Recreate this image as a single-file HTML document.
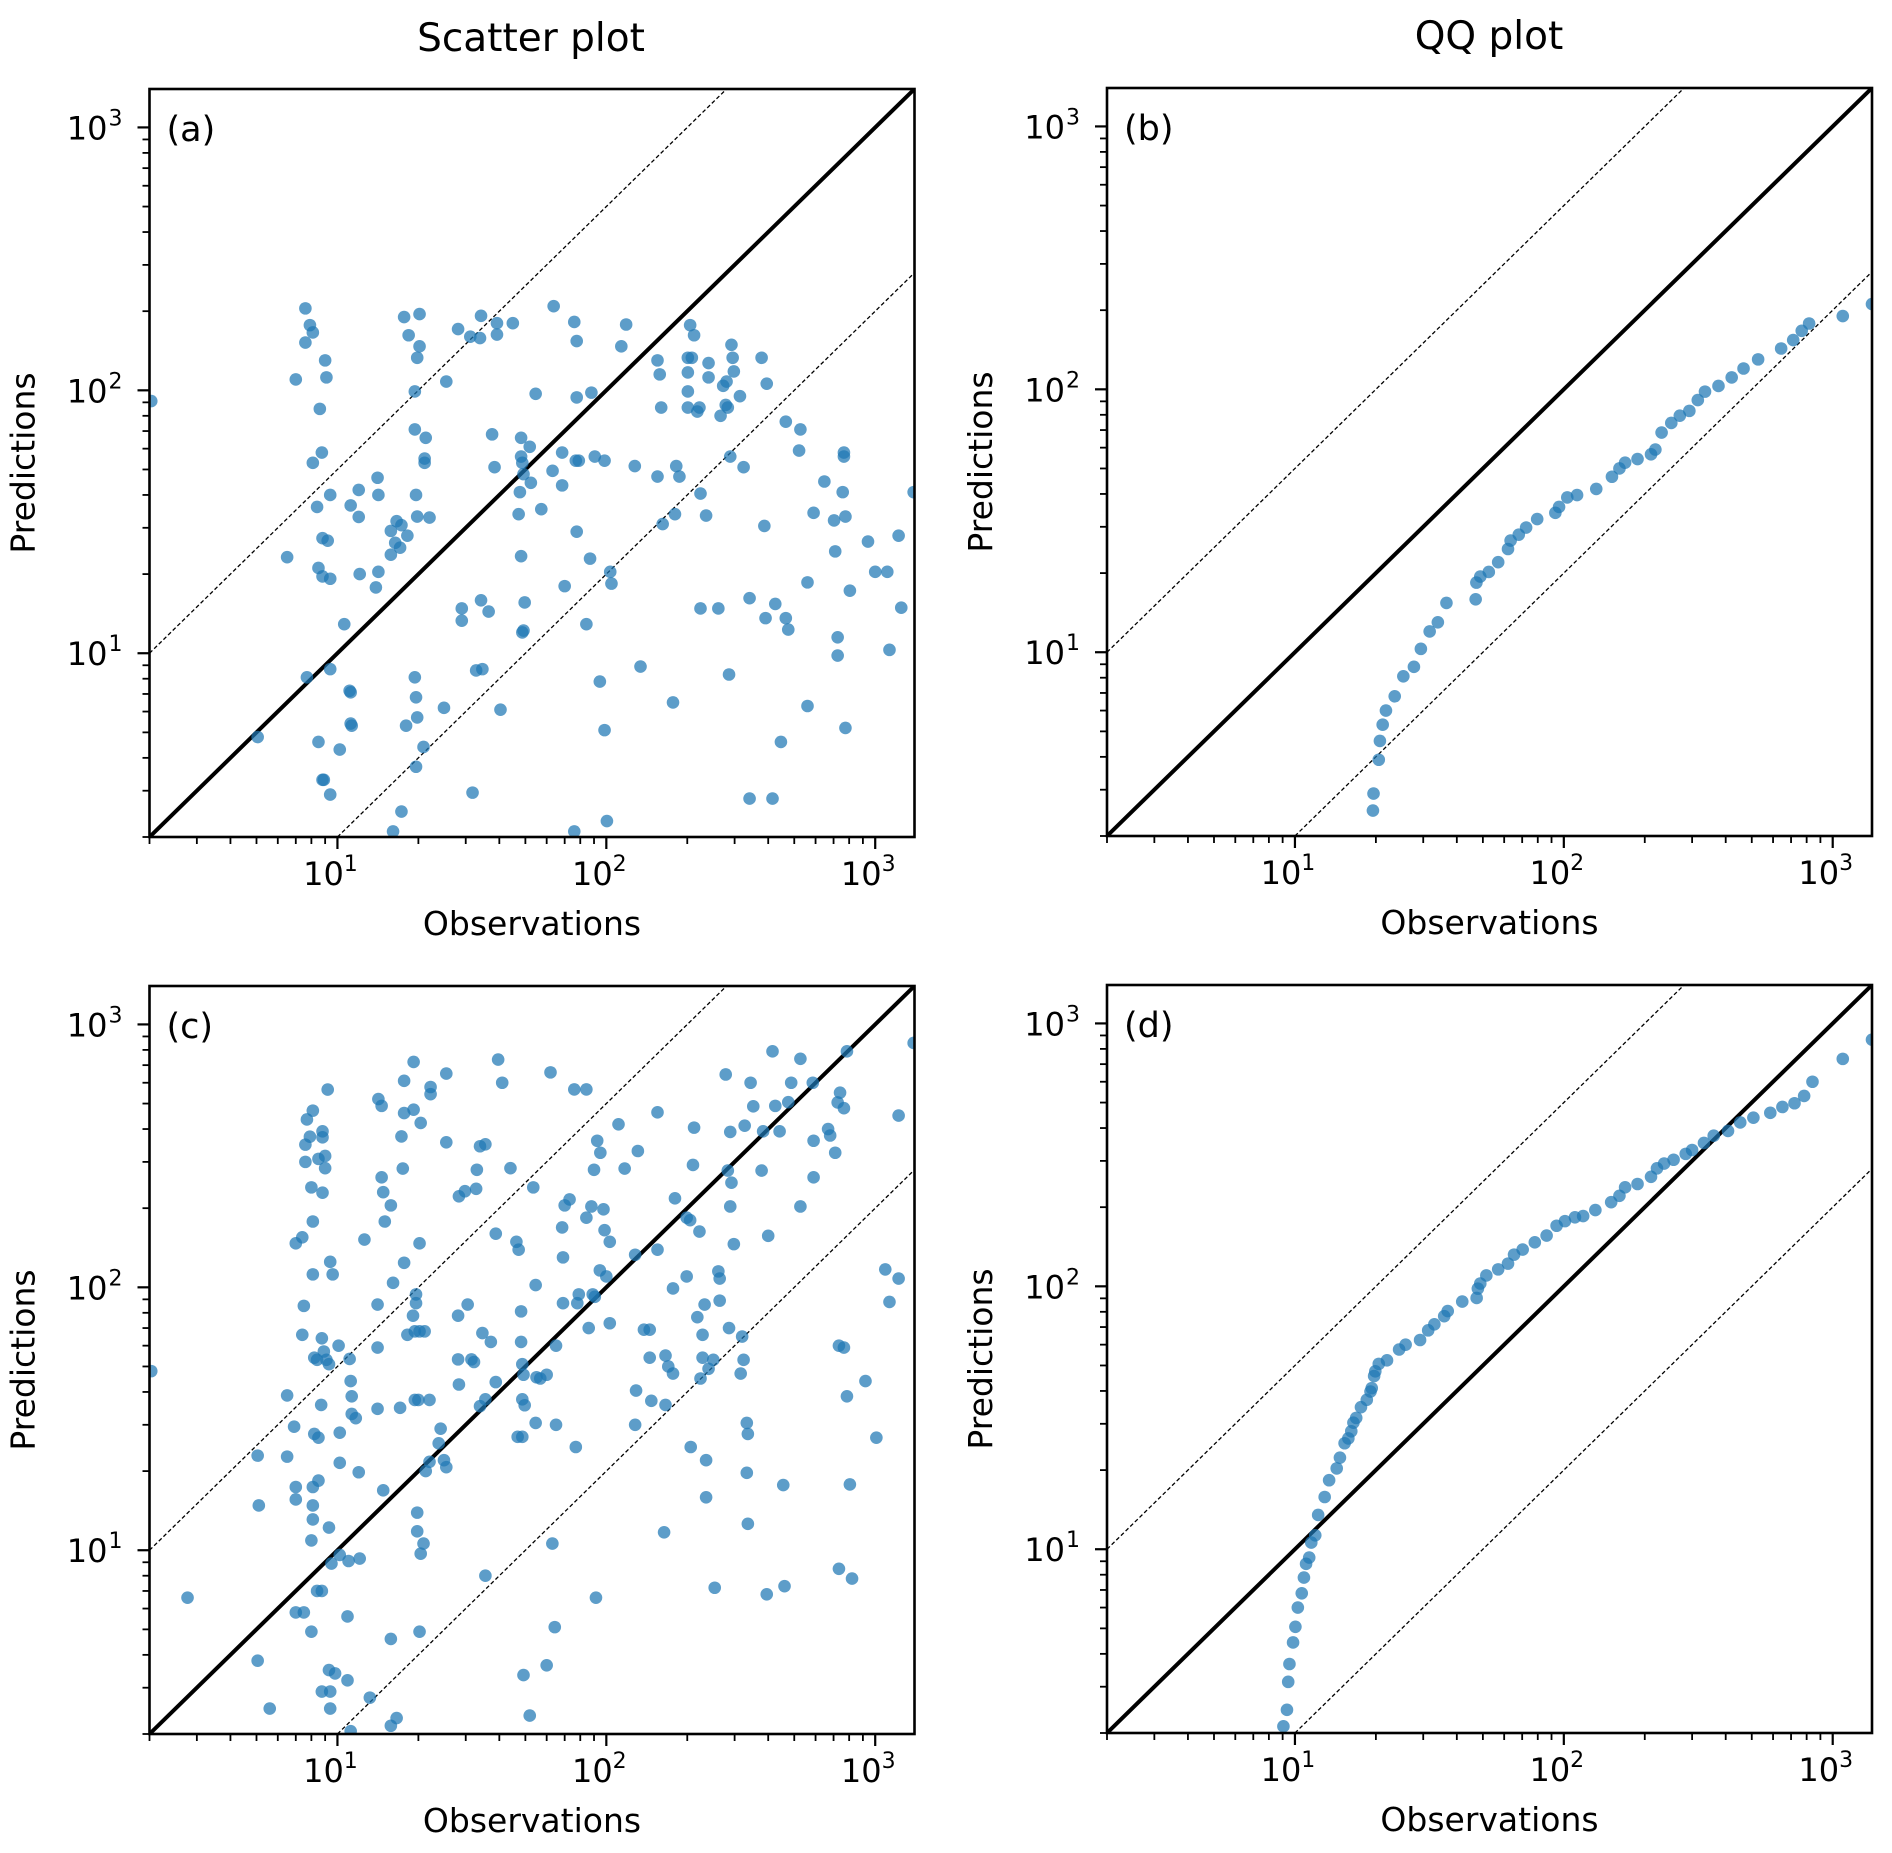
<!DOCTYPE html>
<html><head><meta charset="utf-8"><style>
html,body{margin:0;padding:0;background:#fff;}
svg{display:block;font-family:"DejaVu Sans","Liberation Sans",sans-serif;}
</style></head><body>
<svg id="fig" width="1892" height="1853" viewBox="0 0 1892 1853">
<text x="531" y="51" font-size="39" text-anchor="middle">Scatter plot</text>
<text x="1489" y="49" font-size="39" text-anchor="middle">QQ plot</text>
</svg>
<script>
// Panel (a) scatter: observations / predictions
const obsA = [2.03,7.6,7.9,8.1,7.6,7.0,9.0,9.1,8.6,8.75,8.1,9.4,8.4,8.8,9.2,8.5,8.8,9.4,6.5,7.7,9.4,8.5,10.2,8.8,8.9,9.4,5.05,10.6,11.1,11.2,11.2,11.3,12.0,14.1,14.2,12.0,11.2,12.1,14.2,13.9,15.8,16.6,17.3,16.4,17.1,15.8,18.2,17.7,18.4,20.2,20.2,19.8,19.4,19.4,21.3,21.1,21.1,19.6,19.8,22,19.4,19.6,19.8,20.9,19.6,18,17.3,16.1,25.4,28.1,31.2,34.2,33.9,39.2,39.2,44.9,29,29,34.2,36.5,32.8,34.6,31.8,37.6,38.4,24.9,40.4,48.2,48.2,51.9,54.6,48.7,49.2,52.4,47.7,47.2,57.3,48.2,49.2,48.7,49.7,63.7,76,77.6,68.5,63.1,77,79,68.5,77.6,70,88,77.6,90.6,98.5,87,84.3,103.4,104.5,94.6,98.5,100.5,76,118.5,113.7,127.6,134,155,158,160,182,187,155,162,180,177,205,212,201,208,201,201,201,222,218,224,235,224,261,240,240,272,280,295,298,278,266,283,314,292,324,289,286,341,415,341,387,391,425,465,475,378,395,446,465,527,521,590,560,560,647,703,775,757,765,765,710,725,725,775,805,940,1000,1109,1222,1130,1250,1390];
const predA = [91,205,177,166,152,110,130,112,85,58,53,40,36,27.4,26.8,21.1,19.6,19.2,23.2,8.1,8.7,4.6,4.3,3.3,3.3,2.9,4.8,12.9,7.2,7.1,5.4,5.3,41.8,46.5,40,33,36.5,20,20.4,17.8,29.2,31.8,30.7,26.3,25.2,23.7,28,190,162,195,147,133,99,71,66,55,53,40,33.1,32.8,8.1,6.8,5.7,4.4,3.7,5.3,2.5,2.1,108,171,160,192,158,163,180,180,14.8,13.3,15.9,14.4,8.6,8.7,2.95,68,51,6.2,6.1,66,56,61,97,53,48,44.5,41,33.8,35.3,23.4,12.2,12,15.6,209,182,154,58,49.4,54,54,43.5,29,18,98,94,56,54,22.9,12.9,20.4,18.4,7.8,5.1,2.3,2.1,178,147,51.5,8.9,130,115,86,51.5,47,47,31,33.8,6.5,177,162,133,133,117,99,86,86,83,40.5,33.4,14.8,14.8,112,127,104,108,133,118,88,80,86,95,149,51,56,8.3,2.8,2.8,16.2,30.5,13.6,15.4,13.6,12.3,133,106,4.6,76,71,59,34.2,18.6,6.3,45,32,33.1,41,58,56,24.4,11.5,9.8,5.2,17.3,26.6,20.4,20.4,28,10.3,14.9,41];
// Panel (b) QQ: sorted observations / sorted predictions
const obsB = [19.5,19.6,20.5,20.7,21.2,21.8,23.5,25.3,27.7,29.4,31.7,34.0,36.6,47,47.3,48.9,52.6,57,62,63.4,68,72.4,79.6,93,96,103,112,132,151,161,169,188,211,219,231,251,270,293,315,335,376,421,466,528,643,713,767,817,1090,1400];
const predB = [2.5,2.9,3.9,4.6,5.3,6.0,6.8,8.1,8.8,10.3,12.0,13.0,15.4,15.9,18.4,19.4,20.2,22,24.7,26.6,28,29.8,32.1,33.9,35.7,38.8,39.6,41.8,46.5,50,52.6,54.3,56.6,59,68.5,74.5,79.4,82.8,91,98,103,111,120,130,143,154,167,178,190,211];
// Panel (c) scatter
const obsC = [2.03,2.77,5.05,5.05,5.1,5.6,6.5,6.5,7.0,7.0,6.9,7.0,7.0,7.4,7.5,7.4,7.6,7.6,7.7,8.1,7.9,8.0,8.1,8.1,8.2,8.4,8.2,8.5,8.1,8.1,8.5,8.1,8.0,7.5,8.4,8.75,8.0,8.5,8.8,9.0,8.8,9.0,8.8,9.2,9.4,9.6,8.75,8.9,8.7,9.1,9.3,9.3,9.5,10.2,10.2,10.2,10.1,9.3,9.8,8.75,9.4,9.4,10.9,11.2,10.9,11.0,11.3,11.2,11.3,11.7,12,12.1,11.1,12.6,13.2,14.1,14.1,14.1,14.2,14.6,14.6,14.8,15.0,14.8,15.8,16.1,15.8,15.8,16.6,17.1,17.7,17.3,17.5,17.7,17.7,18.2,19.1,19.2,19.2,19.4,19.4,20,19.6,19.6,20.2,20.2,21.1,19.8,19.8,20.9,20.4,20.2,21.3,22.0,20.4,22.2,22.2,22,23.8,24.9,25.4,25.4,25.4,24.2,28.1,28.3,28.1,28.3,29.8,30.5,31.5,32.2,32.8,33,34.6,33.9,35.5,35.5,33.9,35.5,37.2,38.8,38.8,39.6,41,44,46.3,47.2,48.2,48.2,48.7,49.2,48.7,49.7,46.8,48.7,49.2,51.9,53.5,54.6,55,54.6,56.8,60,62,63,64.3,60,65,65,68.5,69,69,70,73,76,77,78,79,84.3,84.3,86,89,88,90,92.5,90.6,91.5,94.6,95,97.6,98.5,100,103,103,111,117,128,128,129,131,138,145,145,155,147,155,166,166,170,164,177,180,177,199,199,205,206,210,212,218,222,224,228,228,232,235,235,240,250,253,261,264,264,278,283,289,292,298,286,289,320,316,324,327,344,352,336,333,333,336,383,378,395,400,415,425,441,455,460,475,487,527,527,586,590,590,668,680,710,725,733,765,740,765,785,733,820,785,805,920,1010,1090,1130,1222,1222,1390];
const predC = [48,6.6,3.8,22.9,14.8,2.5,38.8,22.7,17.4,15.6,29.5,5.8,147,155,85,66,349,300,435,470,374,240,178,112,54,53,27.7,26.8,17.4,14.8,18.4,13.1,10.9,5.8,7,7,4.9,308,372,316,392,284,229,565,125,112,64,57,35.7,53,51,12.2,8.9,9.6,28,21.5,60,3.5,3.4,2.9,2.9,2.5,3.2,2.05,5.6,9.1,38.5,44,33,31.8,19.8,9.3,53.4,152,2.75,86,59,34.5,520,490,262,230,178,16.9,205,104,4.6,2.15,2.3,34.8,610,375,283,460,124,66,78,720,474,68,37.3,37.3,94,87,147,68,68,13.9,11.8,10.6,9.7,4.9,20,21.7,422,543,578,37.3,25.5,22,20.7,356,650,29,53.2,42.7,78,222,232,86,53.2,52,237,280,67,35.3,37.5,350,344,8.0,62,43.6,160,735,600,284,149,139,81,62,51,46.5,37.5,35.6,27,27,3.35,2.35,240,102,45.5,30.5,45,46.5,657,10.6,5.1,3.65,60,30,169,130,87,205,216,566,24.7,87,94,566,184,70,94,203,280,361,92,6.6,116,325,198,165,110,149,73,417,283,133,30,40.5,330,69,69,54,139,37,463,55,35.7,50,11.7,47,218,99,184,110,180,24.7,292,405,77,163,45,66,54,86,15.9,22,49,53,7.2,115,108,89,645,278,390,250,146,70,203,65,47,53,412,600,488,27.7,30.5,19.7,12.6,392,278,6.8,157,790,490,392,17.7,7.3,506,600,740,203,600,361,262,400,378,325,505,60,59,550,480,790,8.5,7.8,38.5,17.8,44,26.8,117,88,108,450,850];
// Panel (d) QQ
const obsD = [9.06,9.34,9.44,9.54,9.84,10.04,10.25,10.6,10.8,11.0,11.3,11.5,11.9,12.2,12.9,13.4,14.3,14.7,15.3,15.8,16.2,16.5,16.9,17.6,18.5,19.1,19.3,19.7,19.9,20.5,22.0,24.4,25.8,29.2,31.3,33,35.9,37,41.9,47.4,47.9,48.9,51.5,57,62,65.3,70.3,78,86.3,94,101,110,118,131,150,161,169,188,211,222,236,256,284,300,332,361,408,453,507,586,650,721,783,841,1090,1400];
const predD = [2.12,2.45,3.13,3.66,4.42,5.07,6.0,6.8,7.8,8.8,9.3,10.6,11.3,13.5,15.8,18.3,20.3,22.3,25.3,26.4,28.1,30.3,31.6,34.7,37,39.8,41,45.6,47.5,50.7,52.3,57.5,60,62.5,68,71.7,77,80.5,87.5,90.3,98,102.5,110,116,122,132,138,147,156,170,177,183,185,195,209,221,238,245,261,281,293,303,319,330,351,374,390,420,438,457,481,497,530,600,733,867];
// axis tick exponents
const majorExps = [1, 2, 3];
const tickLabelsMajor = ["1", "2", "3"];
const bandFactor = 5;

const NS = "http://www.w3.org/2000/svg";
const svg = document.getElementById("fig");
const LMIN = Math.log10(2), LMAX = Math.log10(1400);
const W = 765, H = 748;
function mk(tag, attrs, parent) {
  const e = document.createElementNS(NS, tag);
  for (const k in attrs) e.setAttribute(k, attrs[k]);
  parent.appendChild(e);
  return e;
}
function drawPanel(id, left, top, obs, pred, letter) {
  const g = mk("g", {}, svg);
  
  
  const sx = v => left + (Math.log10(v) - LMIN) / (LMAX - LMIN) * W;
  const sy = v => top + H - (Math.log10(v) - LMIN) / (LMAX - LMIN) * H;
  const cpId = "clip-" + id;
  const defs = mk("defs", {}, g);
  const cp = mk("clipPath", {id: cpId}, defs);
  mk("rect", {x: left, y: top, width: W, height: H}, cp);
  const plot = mk("g", {"clip-path": "url(#" + cpId + ")"}, g);
  const f = bandFactor;
  const d1 = mk("line", {x1: sx(2), y1: sy(2 * f), x2: sx(1400 / f), y2: sy(1400), stroke: "#000", "stroke-width": 1.3, "stroke-dasharray": "4,2.5"}, plot);
  
  
  const d2 = mk("line", {x1: sx(2 * f), y1: sy(2), x2: sx(1400), y2: sy(1400 / f), stroke: "#000", "stroke-width": 1.3, "stroke-dasharray": "4,2.5"}, plot);
  
  
  const d0 = mk("line", {x1: sx(2), y1: sy(2), x2: sx(1400), y2: sy(1400), stroke: "#000", "stroke-width": 4}, plot);
  
  
  for (let i = 0; i < obs.length; i++) {
    const c = mk("circle", {cx: sx(obs[i]), cy: sy(pred[i]), r: 6.3, fill: "#1f77b4", "fill-opacity": 0.72}, plot);
    
    
  }
  const fr = mk("rect", {x: left, y: top, width: W, height: H, fill: "none", stroke: "#000", "stroke-width": 2.6}, g);
  
  
  for (let e = 0; e <= 3; e++) {
    for (let m = 1; m <= 9; m++) {
      const v = m * Math.pow(10, e);
      if (v < 2 || v > 1400) continue;
      const major = m === 1;
      const len = major ? 12 : 7;
      const x = sx(v), y = sy(v);
      const tx = mk("line", {x1: x, y1: top + H, x2: x, y2: top + H + len, stroke: "#000", "stroke-width": major ? 2.2 : 1.8}, g);
      
      
      const ty = mk("line", {x1: left, y1: y, x2: left - len, y2: y, stroke: "#000", "stroke-width": major ? 2.2 : 1.8}, g);
      
      
    }
  }
  majorExps.forEach((ex, i) => {
    const v = Math.pow(10, ex);
    const xl = mk("text", {x: sx(v) - 7, y: top + H + 48, "font-size": 32, "text-anchor": "middle"}, g);
    
    
    xl.textContent = "10";
    const s1 = mk("tspan", {dy: -14, "font-size": 22}, xl);
    s1.textContent = tickLabelsMajor[i];
    const yl = mk("text", {x: left - 42, y: sy(v) + 12, "font-size": 32, "text-anchor": "end"}, g);
    
    
    yl.textContent = "10";
    const s2 = mk("tspan", {x: left - 41, dy: -14, "font-size": 22, "text-anchor": "start"}, yl);
    s2.textContent = tickLabelsMajor[i];
  });
  const xt = mk("text", {x: left + W / 2, y: top + H + 98, "font-size": 33, "text-anchor": "middle"}, g);
  
  
  xt.textContent = "Observations";
  const cy = top + H / 2;
  const yt = mk("text", {x: left - 115, y: cy, "font-size": 33, "text-anchor": "middle", transform: "rotate(-90 " + (left - 115) + " " + cy + ")"}, g);
  
  
  yt.textContent = "Predictions";
  const pl = mk("text", {x: left + 17, y: top + 52, "font-size": 35}, g);
  
  
  pl.textContent = letter;
}
drawPanel("a", 149.5, 89, obsA, predA, "(a)");
drawPanel("b", 1107, 88, obsB, predB, "(b)");
drawPanel("c", 149.5, 986, obsC, predC, "(c)");
drawPanel("d", 1107, 985, obsD, predD, "(d)");
</script>
</body></html>
